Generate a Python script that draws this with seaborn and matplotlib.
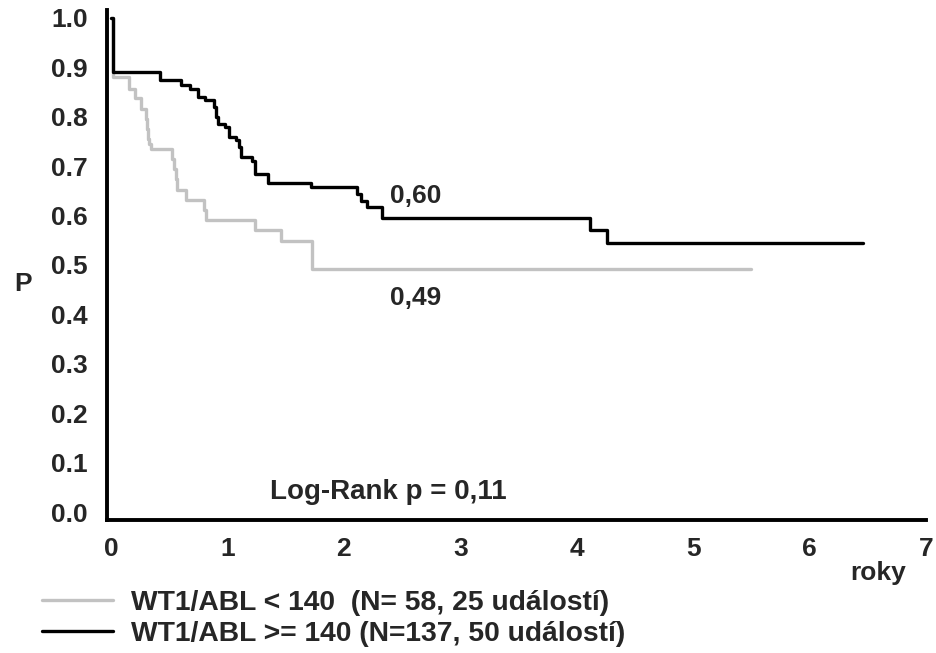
import seaborn as sns
import pandas as pd
import numpy as np
import matplotlib.pyplot as plt

# Kaplan-Meier steps (time in years, survival P)
t_high = [0, 0.02, 0.42, 0.60, 0.68, 0.75, 0.81, 0.88, 0.90, 0.92, 0.98, 1.01, 1.07, 1.10,
          1.12, 1.21, 1.24, 1.35, 1.72, 2.11, 2.15, 2.20, 2.33, 4.11, 4.26, 6.46]
s_high = [1.0, 0.89, 0.874, 0.865, 0.857, 0.84, 0.833, 0.82, 0.80, 0.786, 0.779, 0.759, 0.752, 0.738,
          0.718, 0.711, 0.684, 0.665, 0.657, 0.644, 0.63, 0.617, 0.596, 0.570, 0.545, 0.545]

t_low = [0, 0.02, 0.154, 0.205, 0.254, 0.30, 0.31, 0.32, 0.33, 0.34, 0.525, 0.54, 0.555,
         0.57, 0.645, 0.796, 0.816, 1.233, 1.46, 1.73, 5.50]
s_low = [1.0, 0.881, 0.857, 0.837, 0.816, 0.796, 0.776, 0.755, 0.745, 0.735, 0.715, 0.694, 0.674,
         0.652, 0.631, 0.611, 0.591, 0.570, 0.549, 0.491, 0.491]

label_low = "WT1/ABL < 140  (N= 58, 25 událostí)"
label_high = "WT1/ABL >= 140 (N=137, 50 událostí)"

df = pd.concat([
    pd.DataFrame({"roky": t_low, "P": s_low, "skupina": label_low}),
    pd.DataFrame({"roky": t_high, "P": s_high, "skupina": label_high}),
])

sns.set_style("white")
plt.rcParams['font.family'] = ['Liberation Sans', 'DejaVu Sans']
plt.rcParams['font.weight'] = 'bold'

fig = plt.figure(figsize=(9.36, 6.53), dpi=100)
ax = fig.add_axes([0.1143, 0.2037, 0.875, 0.781])

sns.lineplot(data=df, x="roky", y="P", hue="skupina", estimator=None, drawstyle="steps-post",
             palette={label_low: "#c2c2c2", label_high: "black"}, linewidth=2.4, ax=ax, legend=False)

ax.set_xlim(-0.035, 7.0)
ax.set_ylim(-0.016, 1.016)
ax.set_xticks(range(0, 8))
ax.set_yticks(np.arange(0, 1.01, 0.1))
ax.set_yticklabels([f"{v:.1f}" for v in np.arange(0, 1.01, 0.1)])
ax.tick_params(axis='both', labelsize=19, width=2.5, length=5, direction='out', color='black')
ax.tick_params(axis='x', pad=7)
ax.tick_params(axis='y', pad=9)
for lbl in ax.get_xticklabels() + ax.get_yticklabels():
    lbl.set_fontweight('bold')
for side in ['top', 'right']:
    ax.spines[side].set_visible(False)
for side in ['left', 'bottom']:
    ax.spines[side].set_linewidth(2.8)
    ax.spines[side].set_color('black')

ax.set_xlabel("")
ax.set_ylabel("")
fig.text(0.025, 0.565, "P", fontsize=19, fontweight='bold', ha='center', va='center')
fig.text(0.938, 0.123, "roky", fontsize=19, fontweight='bold', ha='center', va='center')

ax.text(2.62, 0.64, "0,60", fontsize=19, fontweight='bold', ha='center', va='center')
ax.text(2.62, 0.433, "0,49", fontsize=19, fontweight='bold', ha='center', va='center')
ax.text(2.38, 0.04, "Log-Rank p = 0,11", fontsize=20, fontweight='bold', ha='center', va='center')

handles = [plt.Line2D([], [], color="#c2c2c2", linewidth=2.4),
           plt.Line2D([], [], color="black", linewidth=2.4)]
fig.legend(handles, [label_low, label_high], loc='upper left', bbox_to_anchor=(0.045, 0.097),
           frameon=False, handlelength=2.5, handletextpad=0.65, labelspacing=0.18,
           borderpad=0, borderaxespad=0, prop={'weight': 'bold', 'size': 20.3})

fig.savefig("out.png", dpi=100)
